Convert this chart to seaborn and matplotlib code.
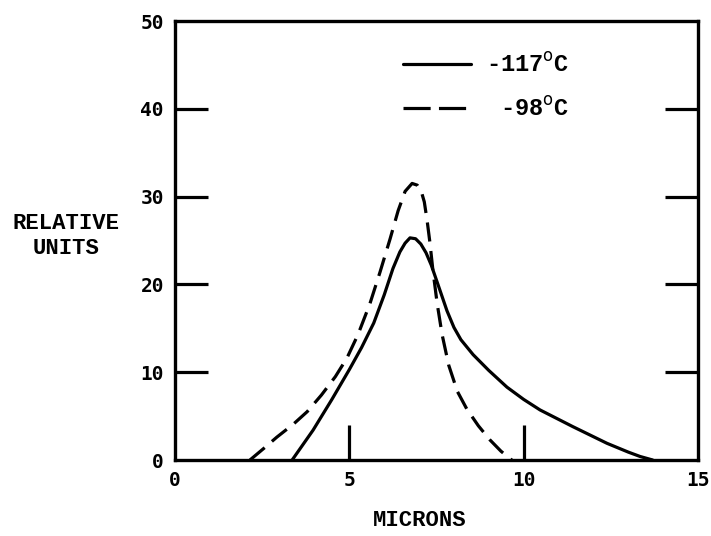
import matplotlib
matplotlib.use("Agg")
import matplotlib.pyplot as plt
from matplotlib.lines import Line2D
import seaborn as sns
import pandas as pd

# ---- data ----
series_names = ["-117$^{\\mathrm{o}}$C", " -98$^{\\mathrm{o}}$C"]

x_117 = [3.36, 3.96, 4.5, 5.0, 5.35, 5.7, 6.0, 6.25, 6.45, 6.6, 6.74, 6.9, 7.05,
         7.2, 7.35, 7.55, 7.8, 8.0, 8.2, 8.55, 9.0, 9.52, 10.0, 10.47, 11.41,
         12.39, 13.0, 13.34, 13.7]
y_117 = [0.0, 3.4, 6.9, 10.3, 12.8, 15.6, 18.8, 21.8, 23.7, 24.7, 25.3, 25.2, 24.6,
         23.6, 22.2, 19.9, 17.0, 15.1, 13.7, 12.0, 10.2, 8.3, 6.9, 5.7, 3.8,
         1.9, 0.9, 0.4, 0.0]

x_98 = [2.15, 2.6, 2.92, 3.4, 3.79, 4.2, 4.6, 4.93, 5.25, 5.59, 5.88, 6.17, 6.4,
        6.6, 6.8, 6.95, 7.07, 7.15, 7.23, 7.31, 7.4, 7.52, 7.66, 7.85, 8.1, 8.37,
        8.7, 9.03, 9.35, 9.66]
y_98 = [0.0, 1.5, 2.6, 4.1, 5.5, 7.4, 9.5, 11.6, 14.3, 17.8, 21.4, 25.2, 28.4,
        30.6, 31.5, 31.3, 30.5, 29.4, 27.3, 24.8, 21.5, 17.8, 14.3, 10.8, 7.8, 5.8,
        3.9, 2.3, 1.0, 0.0]

x_tick_values = [0, 5, 10, 15]
x_tick_marks = [5, 10]
y_tick_values = [0, 10, 20, 30, 40, 50]
y_tick_marks = [10, 20, 30, 40]

x_label = "MICRONS"
y_label = "RELATIVE\nUNITS"

# ---- build table ----
df = pd.concat([
    pd.DataFrame({"x": x_117, "y": y_117, "series": series_names[0]}),
    pd.DataFrame({"x": x_98, "y": y_98, "series": series_names[1]}),
], ignore_index=True)

sns.set_theme(style="white")
plt.rcParams["font.family"] = ["DejaVu Sans"]
plt.rcParams["text.color"] = "black"
plt.rcParams["axes.labelcolor"] = "black"
plt.rcParams["xtick.color"] = "black"
plt.rcParams["ytick.color"] = "black"

W, H = 711, 536
fig = plt.figure(figsize=(W / 100, H / 100), dpi=100)
L, R, T, B = 175, 698, 21, 460
ax = fig.add_axes([L / W, 1 - B / H, (R - L) / W, (B - T) / H])

lw = 2.3
sns.lineplot(data=df, x="x", y="y", style="series", color="black",
             dashes={series_names[0]: "", series_names[1]: (6, 3)},
             sort=False, estimator=None, linewidth=lw, legend=False, ax=ax)

ax.set_xlim(0, 15)
ax.set_ylim(0, 50)

for s in ax.spines.values():
    s.set_visible(True)
    s.set_color("black")
    s.set_linewidth(2.4)

mono = "DejaVu Sans Mono"
ax.xaxis.remove_overlapping_locs = False
ax.yaxis.remove_overlapping_locs = False
ax.set_xticks(x_tick_values)
ax.set_xticklabels([str(v) for v in x_tick_values], fontfamily=mono, fontsize=14,
                   fontweight="bold")
ax.set_yticks(y_tick_values)
ax.set_yticklabels([str(v) for v in y_tick_values], fontfamily=mono, fontsize=14,
                   fontweight="bold")
ax.tick_params(axis="both", which="major", length=0, pad=8, labelcolor="black")

ax.set_xticks(x_tick_marks, minor=True)
ax.set_yticks(y_tick_marks, minor=True)
ax.tick_params(axis="x", which="minor", direction="in", length=25, width=2.3,
               bottom=True, top=False, color="black")
ax.tick_params(axis="y", which="minor", direction="in", length=24, width=2.3,
               left=True, right=True, color="black")

tf = "Liberation Mono"
ax.set_xlabel(x_label, fontfamily=tf, fontsize=16, fontweight="bold",
              color="black", va="center")
ax.xaxis.set_label_coords((420 - L) / (R - L), (B - 521) / (B - T))
ax.set_ylabel(y_label, fontfamily=tf, fontsize=16, fontweight="bold", color="black",
              rotation=0, ha="center", va="center", multialignment="center",
              linespacing=1.3)
ax.yaxis.set_label_coords((66 - L) / (R - L), (B - 236) / (B - T))

handles = [Line2D([], [], color="black", linewidth=lw),
           Line2D([], [], color="black", linewidth=lw, dashes=(8.5, 2.6))]
leg = ax.legend(handles, series_names, loc="upper left",
                bbox_to_anchor=((403 - L) / (R - L), (B - 53) / (B - T)),
                frameon=False, borderpad=0, borderaxespad=0,
                handlelength=2.9, handletextpad=0.6, labelspacing=0.85,
                prop={"family": tf, "size": 17, "weight": "bold"})
for t in leg.get_texts():
    t.set_color("black")

fig.savefig("out.png", dpi=100)
